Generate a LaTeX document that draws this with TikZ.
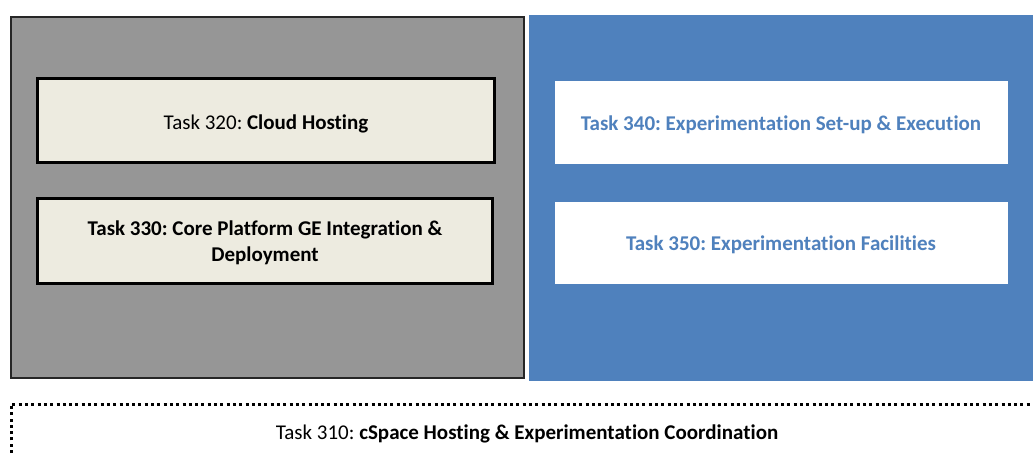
\documentclass[tikz,border=0pt]{standalone}
\usepackage{fontspec}
\setmainfont[Ligatures=NoCommon]{Carlito}
\frenchspacing
\definecolor{grayfill}{RGB}{150,150,150}
\definecolor{beige}{RGB}{237,235,224}
\definecolor{wpblue}{RGB}{79,129,189}
\begin{document}
\begin{tikzpicture}[x=1pt,y=-1pt,
  txt/.style={font=\fontsize{21}{26}\selectfont, align=center, inner sep=0pt},
  taskbox/.style={draw=black, line width=3pt, fill=beige},
  wbox/.style={fill=white, draw=none}]
\useasboundingbox (0,0) rectangle (1033,453);
% left gray panel
\draw[draw=black!85, line width=1.5pt, fill=grayfill] (11,17) rectangle (524,378);
% right blue panel
\fill[wpblue] (529,15) rectangle (1040,381);
% task boxes
\draw[taskbox] (37,78) rectangle (494,162);
\draw[taskbox] (37,198) rectangle (492,283);
\fill[wbox] (555,81) rectangle (1008,164);
\fill[wbox] (555,202) rectangle (1008,284);
\node[txt] (t320) at (266,124) {Task 320: \textbf{Cloud Hosting}};
\node[txt] (t330) at (265,243) {\textbf{Task 330: Core Platform GE Integration \&}\\\textbf{Deployment}};
\node[txt, text=wpblue] (t340) at (781,125) {\textbf{Task 340: Experimentation Set-up \& Execution}};
\node[txt, text=wpblue] (t350) at (781,245) {\textbf{Task 350: Experimentation Facilities}};
% dotted frame
\coordinate (dl) at (11,453);
\coordinate (dtl) at (11,404);
\coordinate (dr) at (1040,404);
\draw[line width=3pt, dash pattern=on 3pt off 3.3pt] (dl) -- (dtl) -- (dr);
\node[txt] (t310) at (527,434) {Task 310: \textbf{cSpace Hosting \& Experimentation Coordination}};
\end{tikzpicture}
\end{document}
